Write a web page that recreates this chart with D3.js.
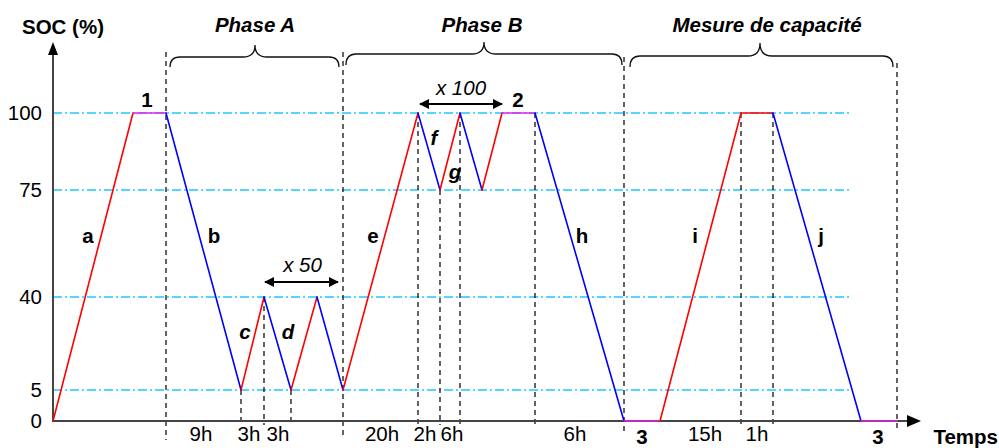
<!DOCTYPE html>
<html><head><meta charset="utf-8">
<script src="https://cdn.jsdelivr.net/npm/d3@7"></script>
<style>
html,body{margin:0;padding:0;background:#fff;}
svg{display:block;font-family:"Liberation Sans",Arial,sans-serif;}
</style></head>
<body>
<svg id="c" width="999" height="448"></svg>
<script>
// ---- data (time in schematic units, SOC in %) ----
const socTicks = [0, 5, 40, 75, 100];
const gridLevels = [5, 40, 75, 100];
const timePoints = [0, 80, 113, 188, 211, 238, 264, 290, 365, 387, 407, 429, 449, 482, 571, 607, 688, 720, 808, 844];
const socValues  = [0, 100, 100, 5, 40, 5, 40, 5, 100, 75, 100, 75, 100, 100, 0, 0, 100, 100, 0, 0];
const segmentKinds = ["charge","rest","discharge","charge","discharge","charge","discharge","charge","discharge","charge","discharge","charge","rest","discharge","rest","charge","charge","discharge","rest"];
const phaseBounds = [113, 290, 571, 844];
const markerTimes = [188, 211, 238, 365, 387, 407, 482, 688, 720];
const segLabelText = ["a","b","c","d","e","f","g","h","i","j"];
const segLabelT    = [35, 161, 192, 235, 320, 381, 402, 529, 642, 768];
const segLabelSoc  = [60, 60, 27, 27, 60, 92, 81, 60, 60, 60];
const segLabelItalic = [false,false,true,true,false,true,true,false,false,false];
const restLabelText = ["1","2"];
const restLabelT    = [94, 465];
const durationText = ["9h","3h","3h","20h","2h","6h","6h","3","15h","1h","3"];
const durationT    = [148, 196, 225, 329, 372, 399, 522, 589, 652, 704, 825];
const durationBold = [false,false,false,false,false,false,false,true,false,false,true];
const phaseNames = ["Phase A","Phase B","Mesure de capacité"];
const phaseStart = [117, 293, 577];
const phaseEnd   = [286, 569, 840];
const phaseMid   = [202, 431, 707];
const phaseTitleT = [202, 429, 714];
const repeatText = ["x 50","x 100"];
const repeatFrom = [212, 367];
const repeatTo   = [285, 449];
const repeatSoc  = [40, 100];

// ---- scales ----
const svg = d3.select("#c");
const x = d3.scaleLinear().domain([0, 868]).range([53, 921]);
const y = d3.scaleLinear().domain(socTicks).range([421, 390, 297, 190, 113]);
const FS = 20.5;
const colorOf = {charge:"#ff0000", discharge:"#0000ff", rest:"#e820e8"};

// gridlines
svg.append("g").selectAll("line").data(gridLevels).join("line")
  .attr("x1", x(0)).attr("x2", x(799)).attr("y1", d=>y(d)).attr("y2", d=>y(d))
  .attr("stroke", "#22c8ff").attr("stroke-width", 1.6).attr("stroke-dasharray", "9,3,2,3");

// tick labels
svg.append("g").selectAll("text").data(socTicks).join("text")
  .attr("x", 42).attr("y", d=>y(d)).attr("dy", "0.36em").attr("text-anchor","end")
  .attr("font-size", FS).text(d=>d);

// phase dividers
svg.append("g").selectAll("line").data(phaseBounds).join("line")
  .attr("x1", d=>x(d)).attr("x2", d=>x(d))
  .attr("y1", (d,i)=>[52,52,57,63][i]).attr("y2", (d,i)=>[440,438,433,432][i])
  .attr("stroke", "#111").attr("stroke-width", 1.3).attr("stroke-dasharray", "5,4");

// marker verticals
svg.append("g").selectAll("line").data(markerTimes).join("line")
  .attr("x1", d=>x(d)).attr("x2", d=>x(d))
  .attr("y1", d=>y(socValues[timePoints.indexOf(d)])).attr("y2", 425)
  .attr("stroke", "#111").attr("stroke-width", 1.3).attr("stroke-dasharray", "5,4");

// axes
const axisCol = "#444";
svg.append("line").attr("x1", x(0)).attr("x2", x(0)).attr("y1", y(0)+1).attr("y2", 52)
  .attr("stroke", axisCol).attr("stroke-width", 2);
svg.append("path").attr("d", `M${x(0)},42 L${x(0)-5},55 L${x(0)+5},55 Z`).attr("fill","#000");
svg.append("line").attr("x1", x(0)-1).attr("x2", 910).attr("y1", y(0)).attr("y2", y(0))
  .attr("stroke", axisCol).attr("stroke-width", 2);
svg.append("path").attr("d", `M921,${y(0)} L907,${y(0)-6} L907,${y(0)+6} Z`).attr("fill","#000");

// SOC profile segments
const segs = segmentKinds.map((k,i)=>({k, t0:timePoints[i], s0:socValues[i], t1:timePoints[i+1], s1:socValues[i+1]}));
svg.append("g").selectAll("line").data(segs).join("line")
  .attr("x1", d=>x(d.t0)).attr("y1", d=>y(d.s0)).attr("x2", d=>x(d.t1)).attr("y2", d=>y(d.s1))
  .attr("stroke", d=>colorOf[d.k]).attr("stroke-width", 1.6).attr("stroke-linecap","round");

// segment labels
svg.append("g").selectAll("text").data(segLabelText).join("text")
  .attr("x", (d,i)=>x(segLabelT[i])).attr("y", (d,i)=>y(segLabelSoc[i])).attr("dy","0.36em")
  .attr("text-anchor","middle").attr("font-weight","bold")
  .attr("font-style",(d,i)=>segLabelItalic[i]?"italic":"normal")
  .attr("font-size", FS).text(d=>d);
svg.append("g").selectAll("text").data(restLabelText).join("text")
  .attr("x", (d,i)=>x(restLabelT[i])).attr("y", y(100)-13).attr("dy","0.36em")
  .attr("text-anchor","middle").attr("font-weight","bold").attr("font-size", FS).text(d=>d);

// duration labels
svg.append("g").selectAll("text").data(durationText).join("text")
  .attr("x", (d,i)=>x(durationT[i])).attr("y", (d,i)=>durationBold[i]?444:441)
  .attr("text-anchor","middle").attr("font-weight",(d,i)=>durationBold[i]?"bold":"normal")
  .attr("font-size", FS).text(d=>d);

// Temps / SOC titles
svg.append("text").attr("x", 998).attr("y", 444).attr("text-anchor","end")
  .attr("font-weight","bold").attr("font-size", FS).text("Temps");
svg.append("text").attr("x", 22).attr("y", 34)
  .attr("font-weight","bold").attr("font-size", FS).text("SOC (%)");

// braces + phase titles
function brace(x1, x2, xm, yEnd, yFlat, yPeak){
  const r = 10, rc = 12;
  return `M${x1},${yEnd} Q${x1},${yFlat} ${x1+r},${yFlat} L${xm-rc},${yFlat} Q${xm},${yFlat} ${xm},${yPeak}`+
         ` Q${xm},${yFlat} ${xm+rc},${yFlat} L${x2-r},${yFlat} Q${x2},${yFlat} ${x2},${yEnd}`;
}
const braceY = [[67,57,45],[65,54,42],[67,56,43]];
svg.append("g").selectAll("path").data(phaseNames).join("path")
  .attr("d", (d,i)=>brace(x(phaseStart[i]), x(phaseEnd[i]), x(phaseMid[i]), ...braceY[i]))
  .attr("fill","none").attr("stroke","#111").attr("stroke-width",1.3);
svg.append("g").selectAll("text").data(phaseNames).join("text")
  .attr("x", (d,i)=>x(phaseTitleT[i])).attr("y", 32).attr("text-anchor","middle")
  .attr("font-weight","bold").attr("font-style","italic").attr("font-size", FS).text(d=>d);

// repeat arrows
const defs = svg.append("defs");
defs.append("marker").attr("id","ah").attr("viewBox","0 0 10 10").attr("refX",9).attr("refY",5)
  .attr("markerWidth",10).attr("markerHeight",10).attr("markerUnits","userSpaceOnUse").attr("orient","auto-start-reverse")
  .append("path").attr("d","M0,0 L10,5 L0,10 Z").attr("fill","#000");
const rep = svg.append("g");
rep.selectAll("line").data(repeatText).join("line")
  .attr("x1",(d,i)=>x(repeatFrom[i])).attr("x2",(d,i)=>x(repeatTo[i]))
  .attr("y1",(d,i)=>y(repeatSoc[i])-(i===0?15:9)).attr("y2",(d,i)=>y(repeatSoc[i])-(i===0?15:9))
  .attr("stroke","#000").attr("stroke-width",1.8)
  .attr("marker-start","url(#ah)").attr("marker-end","url(#ah)");
rep.selectAll("text").data(repeatText).join("text")
  .attr("x",(d,i)=>(x(repeatFrom[i])+x(repeatTo[i]))/2+ (i===0?1:0))
  .attr("y",(d,i)=>y(repeatSoc[i])-(i===0?32:25)).attr("dy","0.36em")
  .attr("text-anchor","middle").attr("font-style","italic").attr("font-size", FS).text(d=>d);
</script>
</body></html>
